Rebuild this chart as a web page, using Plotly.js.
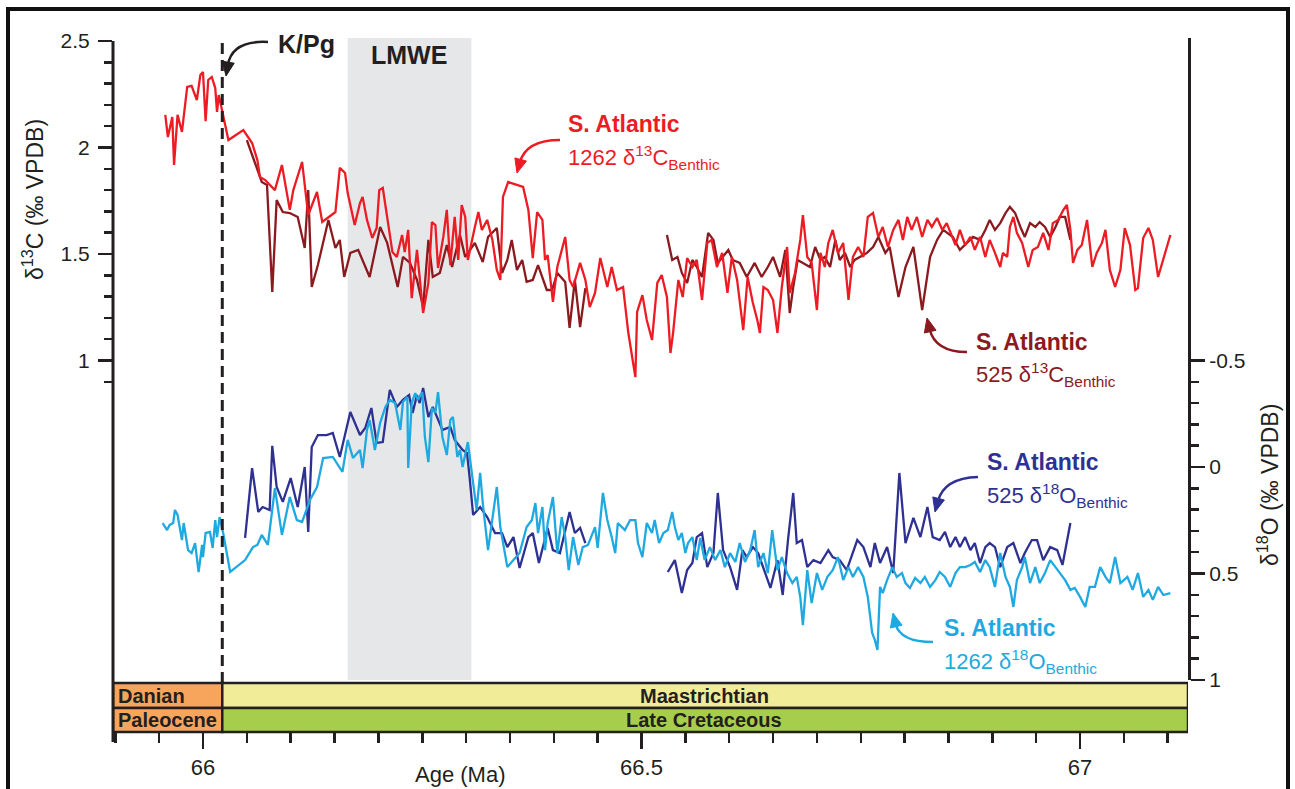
<!DOCTYPE html>
<html><head><meta charset="utf-8">
<script src="https://cdn.plot.ly/plotly-3.0.1.min.js"></script>
<style>html,body{margin:0;padding:0;background:#fff;}#chart{width:1295px;height:789px;}</style>
</head><body><div id="chart"></div>
<script>
// ---------------- DATA ----------------
// Site 1262 benthic d13C (S. Atlantic)
const age1262C = [65.957,65.960,65.965,65.967,65.971,65.976,65.982,65.987,65.993,65.997,
66.000,66.003,66.006,66.010,66.014,66.016,66.018,66.023,66.029,66.046,
66.056,66.062,66.065,66.071,66.082,66.090,66.099,66.103,66.113,66.120,
66.130,66.136,66.151,66.156,66.162,66.165,66.173,66.179,66.182,66.187,
66.193,66.198,66.201,66.205,66.210,66.216,66.221,66.227,66.230,66.234,
66.238,66.244,66.251,66.257,66.261,66.265,66.268,66.274,66.278,66.282,
66.287,66.291,66.295,66.299,66.302,66.307,66.310,66.314,66.318,66.324,
66.330,66.335,66.339,66.342,66.348,66.365,66.371,66.376,66.381,66.387,
66.390,66.393,66.399,66.404,66.409,66.413,66.418,66.422,66.430,66.436,
66.441,66.447,66.453,66.461,66.466,66.472,66.479,66.485,66.493,66.495,
66.501,66.506,66.512,66.518,66.523,66.529,66.533,66.536,66.542,66.547,
66.552,66.558,66.563,66.569,66.575,66.580,66.586,66.592,66.598,66.603,
66.609,66.616,66.621,66.627,66.632,66.635,66.639,66.644,66.650,66.655,
66.660,66.666,66.669,66.675,66.681,66.684,66.689,66.694,66.700,66.704,
66.709,66.713,66.718,66.724,66.730,66.736,66.741,66.747,66.753,66.758,
66.764,66.770,66.775,66.781,66.787,66.793,66.798,66.803,66.808,66.814,
66.820,66.826,66.831,66.837,66.843,66.848,66.858,66.863,66.869,66.875,
66.880,66.886,66.892,66.897,66.903,66.909,66.912,66.917,66.920,66.924,
66.928,66.934,66.941,66.946,66.952,66.958,66.964,66.969,66.975,66.981,
66.985,66.989,66.992,66.997,67.002,67.008,67.014,67.019,67.025,67.029,
67.034,67.040,67.046,67.051,67.057,67.063,67.066,67.072,67.078,67.083,
67.089,67.095,67.103];
const d13C1262 = [2.153,2.049,2.143,1.918,2.153,2.073,2.284,2.289,2.223,2.340,
2.354,2.124,2.317,2.331,2.279,2.167,2.246,2.153,2.035,2.082,
2.021,1.941,1.861,1.847,1.800,1.918,1.707,1.800,1.932,1.683,
1.791,1.650,1.697,1.904,1.880,1.786,1.636,1.739,1.768,1.660,
1.575,1.622,1.800,1.810,1.674,1.509,1.486,1.589,1.509,1.613,
1.293,1.519,1.223,1.364,1.650,1.636,1.434,1.580,1.707,1.448,
1.674,1.472,1.730,1.674,1.472,1.580,1.627,1.697,1.613,1.660,
1.566,1.425,1.378,1.768,1.838,1.815,1.707,1.481,1.697,1.660,
1.472,1.495,1.275,1.439,1.519,1.580,1.378,1.345,1.458,1.378,
1.251,1.317,1.481,1.345,1.439,1.331,1.345,1.129,0.922,1.228,
1.307,1.190,1.096,1.364,1.401,1.298,1.035,1.129,1.378,1.298,
1.481,1.439,1.472,1.284,1.552,1.566,1.439,1.505,1.317,1.486,
1.378,1.143,1.392,1.270,1.190,1.129,1.345,1.331,1.284,1.129,
1.345,1.533,1.317,1.411,1.566,1.683,1.486,1.458,1.237,1.505,
1.439,1.552,1.613,1.505,1.552,1.284,1.486,1.533,1.486,1.674,
1.692,1.580,1.627,1.533,1.613,1.660,1.566,1.674,1.613,1.674,
1.580,1.660,1.627,1.669,1.613,1.645,1.542,1.613,1.542,1.580,
1.519,1.580,1.486,1.566,1.505,1.439,1.505,1.486,1.627,1.674,
1.599,1.552,1.439,1.519,1.533,1.599,1.519,1.645,1.660,1.707,
1.730,1.613,1.458,1.519,1.542,1.660,1.439,1.505,1.552,1.613,
1.425,1.345,1.425,1.622,1.542,1.331,1.340,1.575,1.622,1.566,
1.392,1.472,1.589];

// Site 525 benthic d13C (S. Atlantic); null = gap in record
const age525C = [66.050,66.057,66.067,66.073,66.079,66.084,66.091,66.099,66.108,66.116,
66.120,66.124,66.131,66.143,66.151,66.156,66.161,66.168,66.177,66.190,
66.202,66.210,66.219,66.222,66.228,66.236,66.244,66.251,66.257,66.262,
66.270,66.278,66.284,66.293,66.299,66.310,66.319,66.325,66.335,66.341,
66.347,66.352,66.358,66.364,66.369,66.376,66.382,66.392,66.398,66.404,
66.413,66.418,66.424,66.430,66.436,66.480,66.529,66.535,66.541,66.546,
66.552,66.558,66.563,66.569,66.576,66.582,66.587,66.593,66.599,66.604,
66.612,66.620,66.629,66.637,66.644,66.650,66.658,66.664,66.669,66.673,
66.678,66.684,66.692,66.698,66.704,66.709,66.715,66.721,66.726,66.732,
66.738,66.743,66.749,66.757,66.764,66.770,66.778,66.783,66.793,66.801,
66.810,66.820,66.829,66.837,66.844,66.855,66.863,66.871,66.878,66.886,
66.892,66.897,66.903,66.909,66.915,66.920,66.926,66.932,66.937,66.943,
66.949,66.954,66.960,66.966,66.972,66.977,66.983,66.989];
const d13C525 = [2.035,1.951,1.838,1.824,1.322,1.753,1.697,1.692,1.674,1.528,
1.800,1.345,1.448,1.660,1.528,1.566,1.392,1.505,1.519,1.392,
1.627,1.552,1.387,1.345,1.486,1.458,1.378,1.251,1.566,1.392,
1.411,1.542,1.439,1.589,1.486,1.552,1.462,1.580,1.622,1.411,
1.472,1.566,1.425,1.472,1.369,1.378,1.448,1.331,1.331,1.411,
1.369,1.153,1.378,1.157,1.340,null,1.589,1.472,1.486,1.411,
1.364,1.472,1.439,1.392,1.599,1.566,1.458,1.486,1.519,1.472,
1.458,1.392,1.458,1.392,1.439,1.486,1.392,1.519,1.223,1.345,
1.472,1.458,1.439,1.533,1.472,1.486,1.439,1.566,1.472,1.505,
1.439,1.472,1.486,1.505,1.533,1.580,1.505,1.533,1.298,1.439,
1.533,1.237,1.486,1.566,1.613,1.580,1.519,1.552,1.580,1.566,
1.613,1.660,1.613,1.645,1.692,1.721,1.692,1.627,1.580,1.645,
1.627,1.650,1.627,1.580,1.627,1.674,1.674,1.566];

// Site 1262 benthic d18O
const age1262O = [65.954,65.959,65.962,65.966,65.968,65.971,65.976,65.978,65.983,65.987,
65.991,65.995,65.999,66.000,66.003,66.008,66.011,66.014,66.016,66.019,
66.023,66.031,66.048,66.057,66.062,66.067,66.074,66.082,66.090,66.099,
66.107,66.113,66.122,66.130,66.137,66.148,66.159,66.165,66.171,66.179,
66.182,66.187,66.190,66.196,66.202,66.208,66.213,66.219,66.225,66.228,
66.233,66.234,66.238,66.242,66.245,66.250,66.253,66.257,66.261,66.265,
66.268,66.273,66.278,66.282,66.285,66.290,66.293,66.296,66.302,66.308,
66.312,66.316,66.319,66.325,66.330,66.335,66.339,66.347,66.354,66.361,
66.369,66.375,66.379,66.382,66.387,66.390,66.393,66.399,66.404,66.409,
66.413,66.417,66.422,66.428,66.433,66.439,66.447,66.450,66.456,66.461,
66.466,66.470,66.473,66.481,66.487,66.493,66.496,66.501,66.506,66.512,
66.515,66.520,66.525,66.530,66.535,66.538,66.542,66.546,66.550,66.553,
66.558,66.563,66.567,66.572,66.578,66.584,66.590,66.595,66.601,66.607,
66.612,66.618,66.624,66.629,66.633,66.639,66.644,66.649,66.655,66.660,
66.666,66.672,66.677,66.681,66.684,66.689,66.694,66.700,66.706,66.712,
66.718,66.724,66.730,66.736,66.741,66.747,66.753,66.758,66.763,66.766,
66.769,66.772,66.775,66.780,66.786,66.791,66.797,66.801,66.806,66.812,
66.818,66.823,66.829,66.835,66.840,66.846,66.852,66.858,66.863,66.869,
66.875,66.880,66.886,66.892,66.897,66.903,66.909,66.915,66.920,66.924,
66.928,66.934,66.937,66.943,66.949,66.954,66.960,66.966,66.972,66.977,
66.983,66.989,66.994,67.000,67.006,67.011,67.017,67.023,67.029,67.034,
67.040,67.046,67.054,67.060,67.066,67.072,67.078,67.083,67.089,67.095,
67.103];
const d18O1262 = [0.263,0.296,0.272,0.263,0.202,0.225,0.343,0.263,0.390,0.404,
0.357,0.493,0.366,0.423,0.310,0.305,0.380,0.249,0.329,0.235,
0.310,0.493,0.437,0.376,0.366,0.319,0.366,0.099,0.319,0.141,
0.249,0.258,0.155,0.094,-0.042,-0.047,0.023,-0.127,-0.042,-0.080,
0.005,-0.174,-0.221,-0.080,-0.207,-0.282,-0.315,-0.300,-0.174,-0.305,
-0.329,0.005,-0.300,-0.347,-0.315,-0.352,-0.141,-0.023,-0.277,-0.254,
-0.352,-0.141,-0.056,-0.221,-0.235,-0.047,-0.080,0.000,-0.117,0.075,
0.202,0.028,0.169,0.390,0.235,0.094,0.282,0.470,0.437,0.404,
0.282,0.249,0.169,0.310,0.188,0.390,0.263,0.141,0.404,0.235,
0.329,0.484,0.329,0.460,0.376,0.366,0.282,0.380,0.122,0.249,
0.329,0.404,0.263,0.296,0.249,0.249,0.357,0.423,0.263,0.310,
0.249,0.357,0.310,0.296,0.211,0.282,0.343,0.310,0.404,0.357,
0.329,0.437,0.333,0.437,0.376,0.437,0.390,0.470,0.404,0.446,
0.357,0.446,0.390,0.296,0.470,0.404,0.498,0.296,0.484,0.423,
0.498,0.545,0.516,0.610,0.742,0.484,0.639,0.498,0.577,0.516,
0.484,0.423,0.531,0.470,0.516,0.470,0.516,0.610,0.779,0.812,
0.859,0.563,0.592,0.531,0.470,0.516,0.498,0.545,0.568,0.521,
0.545,0.516,0.563,0.531,0.493,0.516,0.563,0.498,0.470,0.470,
0.460,0.446,0.493,0.437,0.470,0.563,0.404,0.516,0.563,0.657,
0.531,0.470,0.423,0.545,0.470,0.545,0.498,0.437,0.470,0.498,
0.531,0.577,0.568,0.610,0.657,0.563,0.563,0.470,0.516,0.545,
0.423,0.545,0.516,0.577,0.498,0.610,0.577,0.624,0.563,0.601,
0.592];

// Site 525 benthic d18O; null = gap
const age525O = [66.048,66.056,66.063,66.068,66.076,66.079,66.084,66.091,66.100,66.108,
66.116,66.120,66.124,66.131,66.141,66.148,66.156,66.162,66.168,66.179,
66.185,66.192,66.198,66.205,66.213,66.221,66.228,66.235,66.239,66.244,
66.247,66.251,66.257,66.262,66.267,66.273,66.282,66.287,66.296,66.301,
66.304,66.308,66.316,66.324,66.333,66.341,66.347,66.354,66.361,66.371,
66.376,66.383,66.393,66.399,66.407,66.418,66.424,66.430,66.436,66.480,
66.530,66.538,66.546,66.552,66.558,66.563,66.569,66.575,66.582,66.587,
66.593,66.601,66.609,66.615,66.620,66.627,66.633,66.639,66.647,66.655,
66.661,66.667,66.673,66.677,66.683,66.689,66.696,66.704,66.713,66.718,
66.726,66.734,66.746,66.753,66.761,66.766,66.772,66.780,66.787,66.794,
66.801,66.810,66.818,66.826,66.832,66.840,66.846,66.852,66.858,66.863,
66.869,66.875,66.880,66.886,66.892,66.897,66.903,66.909,66.917,66.924,
66.932,66.937,66.945,66.951,66.958,66.966,66.974,66.980,66.989];
const d18O525 = [0.333,0.005,0.211,0.188,0.202,-0.099,0.094,0.164,0.052,0.188,
0.000,0.305,-0.094,-0.150,-0.150,-0.160,-0.047,-0.160,-0.258,-0.150,
-0.183,-0.277,-0.113,-0.117,-0.362,-0.282,-0.315,-0.338,-0.254,-0.338,
-0.300,-0.371,-0.235,-0.282,-0.235,-0.174,-0.188,-0.127,-0.080,-0.066,
0.047,0.225,0.188,0.235,0.310,0.310,0.376,0.329,0.474,0.329,
0.310,0.451,0.286,0.390,0.404,0.211,0.310,0.286,0.357,null,
0.493,0.437,0.592,0.484,0.451,0.329,0.310,0.470,0.404,0.122,
0.390,0.470,0.577,0.390,0.423,0.376,0.404,0.470,0.568,0.437,
0.601,0.343,0.122,0.357,0.343,0.470,0.437,0.451,0.390,0.423,
0.437,0.484,0.343,0.376,0.470,0.357,0.451,0.376,0.498,0.028,
0.357,0.239,0.329,0.188,0.329,0.343,0.305,0.376,0.329,0.376,
0.329,0.390,0.357,0.451,0.376,0.357,0.376,0.470,0.376,0.357,
0.451,0.404,0.343,0.343,0.437,0.376,0.390,0.460,0.263];

// events / timescale
const kpgAge = 66.022;
const lmweStart = 66.165, lmweEnd = 66.306;
const stageNames = ['Danian', 'Maastrichtian'];
const epochNames = ['Paleocene', 'Late Cretaceous'];

// tick labels
const xTickVals = [66, 66.5, 67];
const xTickText = ['66', '66.5', '67'];
const xMinorVals = [65.9,65.95,66.05,66.1,66.15,66.2,66.25,66.3,66.35,66.4,66.45,66.55,66.6,66.65,66.7,66.75,66.8,66.85,66.9,66.95,67.05,67.1];
const c13TickVals = [1, 1.5, 2, 2.5];
const c13MinorVals = [0.9,1.1,1.2,1.3,1.4,1.6,1.7,1.8,1.9,2.1,2.2,2.3,2.4];
const o18TickVals = [-0.5, 0, 0.5, 1];
const o18MinorVals = [-0.4,-0.3,-0.2,-0.1,0.1,0.2,0.3,0.4,0.6,0.7,0.8,0.9];

// ---------------- LAYOUT HELPERS ----------------
const L = 113, R = 1188, T = 38, B = 732;
const W = R - L, H = B - T;
const px = x => (x - L) / W;
const py = y => (B - y) / H;
const X0 = 65.8974, X1 = 67.1231;
const INK = '#231F20';
const FONT = 'Liberation Sans, Arial, Helvetica, sans-serif';

const C_RED = '#ED1C24', C_DRED = '#8B1A1F', C_NAVY = '#2E3192', C_LBLUE = '#1FA9E1';

function curvedArrow(x0, y0, cx, cy, x1, y1, color) {
  const dx = x1 - cx, dy = y1 - cy, len = Math.hypot(dx, dy);
  const ux = dx / len, uy = dy / len;
  const hl = 14, hw = 6;
  const bx = x1 - ux * hl, by = y1 - uy * hl;
  const path = `M ${px(x0)},${py(y0)} Q ${px(cx)},${py(cy)} ${px(bx + ux*3)},${py(by + uy*3)}`;
  const head = `M ${px(x1)},${py(y1)} L ${px(bx - uy * hw)},${py(by + ux * hw)} L ${px(bx + uy * hw)},${py(by - ux * hw)} Z`;
  return [
    {type: 'path', xref: 'paper', yref: 'paper', path: path, line: {color: color, width: 2.5}},
    {type: 'path', xref: 'paper', yref: 'paper', path: head, fillcolor: color, line: {color: color, width: 1}}
  ];
}

const traces = [
  {x: age525C, y: d13C525, xaxis: 'x', yaxis: 'y', mode: 'lines', connectgaps: false,
   line: {color: C_DRED, width: 2.3}, hoverinfo: 'skip'},
  {x: age1262C, y: d13C1262, xaxis: 'x', yaxis: 'y', mode: 'lines',
   line: {color: C_RED, width: 2.3}, hoverinfo: 'skip'},
  {x: age525O, y: d18O525, xaxis: 'x', yaxis: 'y2', mode: 'lines', connectgaps: false,
   line: {color: C_NAVY, width: 2.3}, hoverinfo: 'skip'},
  {x: age1262O, y: d18O1262, xaxis: 'x', yaxis: 'y2', mode: 'lines',
   line: {color: C_LBLUE, width: 2.3}, hoverinfo: 'skip'}
];

const barTop = 683, barMid = 708, barBot = 732;
const shapes = [
  {type: 'rect', xref: 'x', yref: 'paper', x0: lmweStart, x1: lmweEnd, y0: py(680), y1: py(38),
   fillcolor: '#E6E7E9', line: {width: 0}, layer: 'below'},
  {type: 'rect', xref: 'x', yref: 'paper', x0: X0, x1: kpgAge, y0: py(barMid), y1: py(barTop),
   fillcolor: '#F7A55D', line: {color: INK, width: 2.5}},
  {type: 'rect', xref: 'x', yref: 'paper', x0: X0, x1: kpgAge, y0: py(barBot), y1: py(barMid),
   fillcolor: '#F7A55D', line: {color: INK, width: 2.5}},
  {type: 'rect', xref: 'x', yref: 'paper', x0: kpgAge, x1: X1, y0: py(barMid), y1: py(barTop),
   fillcolor: '#F1EC97', line: {color: INK, width: 2.5}},
  {type: 'rect', xref: 'x', yref: 'paper', x0: kpgAge, x1: X1, y0: py(barBot), y1: py(barMid),
   fillcolor: '#A6CE4C', line: {color: INK, width: 2.5}},
  {type: 'line', xref: 'x', yref: 'paper', x0: kpgAge, x1: kpgAge, y0: py(barTop), y1: py(37),
   line: {color: INK, width: 3, dash: '11px,6px'}},
  {type: 'line', xref: 'paper', yref: 'paper', x0: 0, x1: 0, y0: py(742), y1: py(41),
   line: {color: INK, width: 3}},
  {type: 'rect', xref: 'paper', yref: 'paper', x0: px(8), x1: px(1288), y0: py(800), y1: py(9),
   line: {color: '#111', width: 4}, fillcolor: 'rgba(0,0,0,0)'}
].concat(
  curvedArrow(268, 42, 232, 40, 226, 76, INK),
  curvedArrow(560, 140, 526, 140, 517, 173, C_RED),
  curvedArrow(967, 352, 935, 352, 927, 318, C_DRED),
  curvedArrow(978, 477, 944, 478, 935, 512, C_NAVY),
  curvedArrow(933, 642, 900, 642, 893, 613, C_LBLUE)
);

function ann(text, x, y, size, color, opts) {
  return Object.assign({text: text, xref: 'paper', yref: 'paper', x: px(x), y: py(y),
    showarrow: false, xanchor: 'left', yanchor: 'middle',
    font: {family: FONT, size: size, color: color}}, opts || {});
}

const annotations = [
  ann('<b>' + stageNames[0] + '</b>', 116, 696, 20, INK),
  ann('<b>' + epochNames[0] + '</b>', 116, 720, 20, INK),
  ann('<b>' + stageNames[1] + '</b>', 704, 696, 20, INK, {xanchor: 'center'}),
  ann('<b>' + epochNames[1] + '</b>', 704, 720, 20, INK, {xanchor: 'center'}),
  ann('δ<sup>13</sup>C (‰ VPDB)', 33, 200, 23, INK, {xanchor: 'center', textangle: -90}),
  ann('δ<sup>18</sup>O (‰ VPDB)', 1268, 485, 23, INK, {xanchor: 'center', textangle: -90}),
  ann('Age (Ma)', 460, 774, 22, INK, {xanchor: 'center'}),
  ann('<b>K/Pg</b>', 306, 44, 25, INK, {xanchor: 'center'}),
  ann('<b>LMWE</b>', 409, 55, 25, INK, {xanchor: 'center'}),
  ann('<b>S. Atlantic</b>', 566, 124, 23, C_RED),
  ann('1262 δ<sup>13</sup>C<sub>Benthic</sub>', 566, 157, 22, C_RED),
  ann('<b>S. Atlantic</b>', 974, 342, 23, C_DRED),
  ann('525 δ<sup>13</sup>C<sub>Benthic</sub>', 974, 374, 22, C_DRED),
  ann('<b>S. Atlantic</b>', 985, 462, 23, C_NAVY),
  ann('525 δ<sup>18</sup>O<sub>Benthic</sub>', 985, 495, 22, C_NAVY),
  ann('<b>S. Atlantic</b>', 942, 628, 23, C_LBLUE),
  ann('1262 δ<sup>18</sup>O<sub>Benthic</sub>', 942, 661, 22, C_LBLUE)
];

const layout = {
  width: 1295, height: 789,
  margin: {l: L, r: 1295 - R, t: T, b: 789 - B, pad: 0},
  paper_bgcolor: '#ffffff', plot_bgcolor: 'rgba(0,0,0,0)',
  showlegend: false,
  font: {family: FONT, color: INK, size: 21},
  xaxis: {range: [X0, X1], anchor: 'free', position: 0, showgrid: false, zeroline: false,
    showline: false, tickmode: 'array', tickvals: xTickVals, ticktext: xTickText,
    ticks: 'outside', ticklen: 16, tickwidth: 2.5, tickcolor: INK,
    tickfont: {family: FONT, size: 22, color: INK},
    minor: {tickmode: 'array', tickvals: xMinorVals, ticks: 'outside', ticklen: 10, tickwidth: 2.5, tickcolor: INK}},
  yaxis: {domain: [py(680), 1], range: [-0.5, 2.514], showgrid: false, zeroline: false,
    showline: false, tickmode: 'array', tickvals: c13TickVals, ticktext: ['1', '1.5', '2', '2.5'],
    ticks: 'outside', ticklen: 14, tickwidth: 2.5, tickcolor: INK, ticklabelstandoff: 4,
    tickfont: {family: FONT, size: 21, color: INK},
    minor: {tickmode: 'array', tickvals: c13MinorVals, ticks: 'outside', ticklen: 8, tickwidth: 2.5, tickcolor: INK}},
  yaxis2: {overlaying: 'y', side: 'right', range: [1, -2.014], showgrid: false, zeroline: false,
    showline: true, linewidth: 3, linecolor: INK,
    tickmode: 'array', tickvals: o18TickVals, ticktext: ['-0.5', '0', '0.5', '1'],
    ticks: 'outside', ticklen: 14, tickwidth: 2.5, tickcolor: INK,
    tickfont: {family: FONT, size: 21, color: INK},
    minor: {tickmode: 'array', tickvals: o18MinorVals, ticks: 'outside', ticklen: 8, tickwidth: 2.5, tickcolor: INK}},
  shapes: shapes,
  annotations: annotations
};

Plotly.newPlot('chart', traces, layout, {staticPlot: true, displayModeBar: false});
</script>
</body></html>
